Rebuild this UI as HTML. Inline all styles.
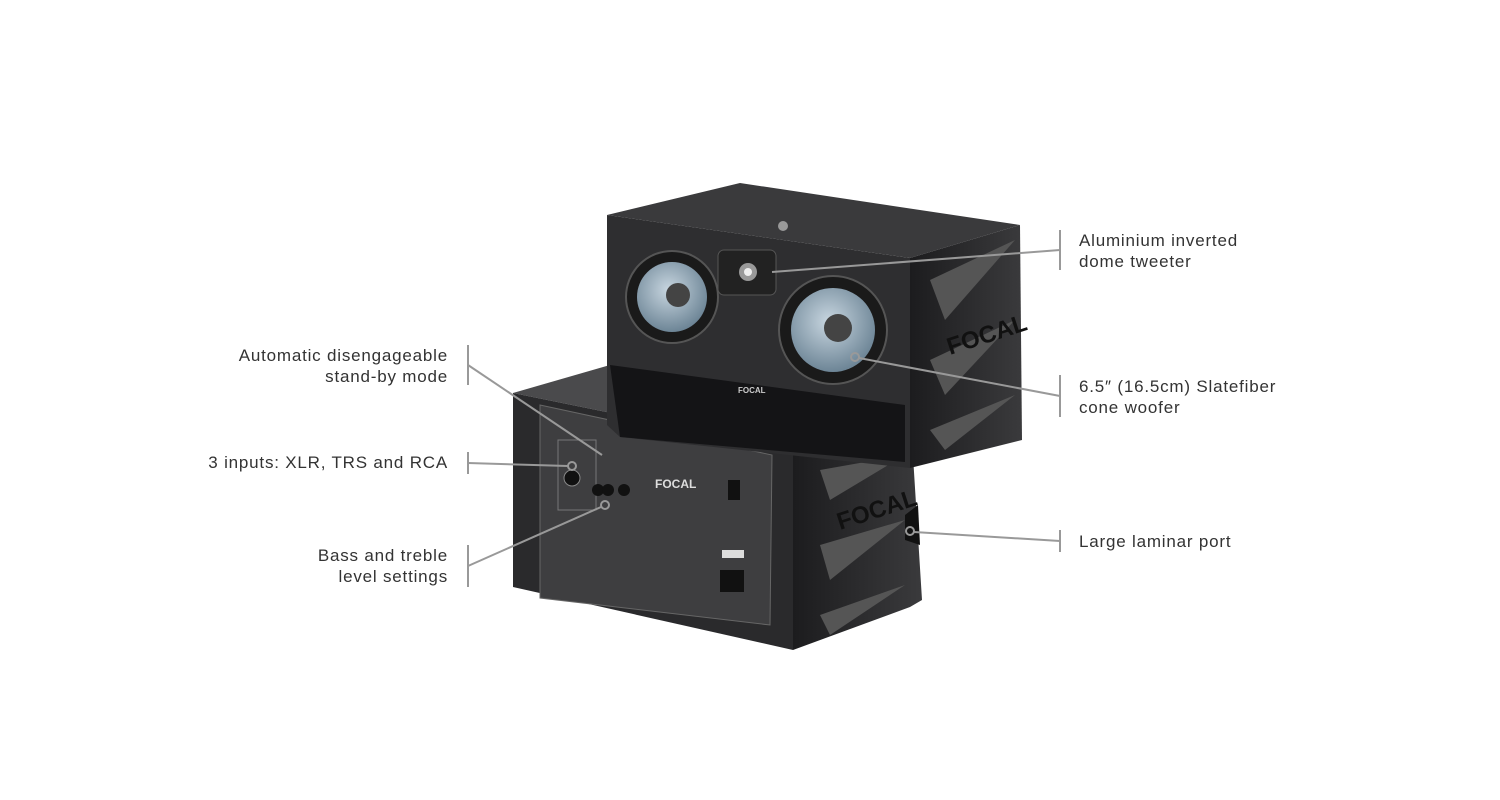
<!DOCTYPE html>
<html><head><meta charset="utf-8"><style>
body{margin:0;width:1500px;height:800px;background:#fff;overflow:hidden;position:relative;font-family:"Liberation Sans",sans-serif;}
.l{position:absolute;font-size:17px;letter-spacing:0.8px;line-height:21px;color:#333;}
.r{text-align:right;}
</style></head><body>
<svg width="1500" height="800" style="position:absolute;left:0;top:0">
<defs>
<radialGradient id="cone" cx="0.45" cy="0.4" r="0.6"><stop offset="0" stop-color="#c8d6e0"/><stop offset="1" stop-color="#6d8596"/></radialGradient>
<linearGradient id="side" x1="0" y1="0" x2="1" y2="0"><stop offset="0" stop-color="#1c1c1e"/><stop offset="1" stop-color="#3a3a3c"/></linearGradient>
</defs>
<!-- bottom speaker -->
<polygon points="513,393 610,365 920,420 910,463 793,450" fill="#4a4a4c"/>
<polygon points="513,393 793,450 793,650 513,587" fill="#2a2a2c"/>
<polygon points="540,405 772,455 770,625 540,598" fill="#3e3e40" stroke="#666" stroke-width="1"/>
<polygon points="793,450 912,440 922,600 910,607 793,650" fill="url(#side)"/>
<polygon points="820,470 905,455 830,500" fill="#555"/>
<polygon points="820,545 905,520 830,580" fill="#555"/>
<polygon points="820,615 905,585 830,635" fill="#555"/>
<polygon points="905,515 918,505 920,545 905,540" fill="#111"/>
<text x="840" y="530" fill="#111" font-size="24" font-weight="bold" transform="rotate(-18 840 530)">FOCAL</text>
<rect x="558" y="440" width="38" height="70" fill="none" stroke="#777"/>
<circle cx="572" cy="478" r="8" fill="#111" stroke="#888"/>
<circle cx="598" cy="490" r="6" fill="#111"/>
<circle cx="608" cy="490" r="6" fill="#111"/>
<circle cx="624" cy="490" r="6" fill="#111"/>
<text x="655" y="488" fill="#ddd" font-size="12" font-weight="bold">FOCAL</text>
<rect x="728" y="480" width="12" height="20" fill="#111"/>
<rect x="720" y="570" width="24" height="22" fill="#111"/>
<rect x="722" y="550" width="22" height="8" fill="#ddd"/>
<!-- top speaker -->
<polygon points="607,215 740,183 1020,225 910,258" fill="#3a3a3c"/>
<polygon points="607,215 910,258 910,468 620,437 607,425" fill="#2e2e30"/>
<polygon points="610,365 905,405 905,462 620,437" fill="#141416"/>
<polygon points="910,258 1020,225 1022,440 910,468" fill="url(#side)"/>
<polygon points="930,280 1015,240 945,320" fill="#555"/>
<polygon points="930,360 1015,320 945,395" fill="#555"/>
<polygon points="930,430 1015,395 945,450" fill="#555"/>
<text x="950" y="355" fill="#111" font-size="24" font-weight="bold" transform="rotate(-18 950 355)">FOCAL</text>
<circle cx="672" cy="297" r="46" fill="#1a1a1a" stroke="#555" stroke-width="2"/>
<circle cx="672" cy="297" r="35" fill="url(#cone)"/>
<circle cx="678" cy="295" r="12" fill="#444"/>
<circle cx="833" cy="330" r="54" fill="#1a1a1a" stroke="#555" stroke-width="2"/>
<circle cx="833" cy="330" r="42" fill="url(#cone)"/>
<circle cx="838" cy="328" r="14" fill="#444"/>
<rect x="718" y="250" width="58" height="45" rx="6" fill="#222" stroke="#555"/>
<circle cx="748" cy="272" r="9" fill="#999"/>
<circle cx="748" cy="272" r="4" fill="#eee"/>
<circle cx="783" cy="226" r="5" fill="#999"/>
<text x="738" y="393" fill="#ccc" font-size="8" font-weight="bold">FOCAL</text>
<!-- connectors -->
<g stroke="#999" stroke-width="2" fill="none">
<line x1="772" y1="272" x2="1060" y2="250"/>
<line x1="1060" y1="230" x2="1060" y2="270"/>
<circle cx="855" cy="357" r="4"/>
<line x1="859" y1="358" x2="1060" y2="396"/>
<line x1="1060" y1="375" x2="1060" y2="417"/>
<circle cx="910" cy="531" r="4"/>
<line x1="914" y1="532" x2="1060" y2="541"/>
<line x1="1060" y1="530" x2="1060" y2="552"/>
<line x1="468" y1="345" x2="468" y2="385"/>
<line x1="468" y1="365" x2="602" y2="455"/>
<line x1="468" y1="452" x2="468" y2="474"/>
<line x1="468" y1="463" x2="568" y2="466"/>
<circle cx="572" cy="466" r="4"/>
<line x1="468" y1="545" x2="468" y2="587"/>
<line x1="468" y1="566" x2="601" y2="507"/>
<circle cx="605" cy="505" r="4"/>
</g>
</svg>
<div class="l" style="left:1079px;top:230px">Aluminium inverted<br>dome tweeter</div>
<div class="l" style="left:1079px;top:376px">6.5″ (16.5cm) Slatefiber<br>cone woofer</div>
<div class="l" style="left:1079px;top:531px">Large laminar port</div>
<div class="l r" style="right:1052px;top:345px">Automatic disengageable<br>stand-by mode</div>
<div class="l r" style="right:1052px;top:452px">3 inputs: XLR, TRS and RCA</div>
<div class="l r" style="right:1052px;top:545px">Bass and treble<br>level settings</div>
</body></html>
